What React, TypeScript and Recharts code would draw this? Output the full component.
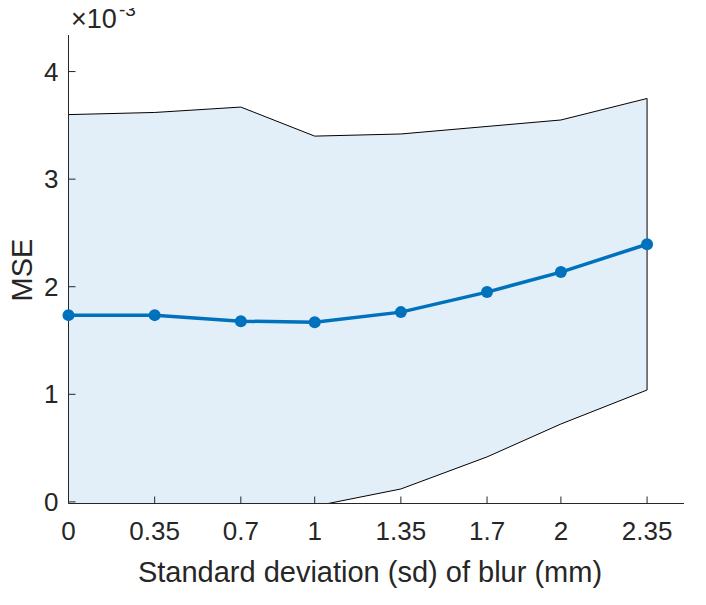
import React from "react";
import { ComposedChart, Area, Line, XAxis, YAxis, ReferenceLine } from "recharts";

const sdValues = [0, 0.35, 0.7, 1, 1.35, 1.7, 2, 2.35];
const meanMSE = [0.001736, 0.001736, 0.00168, 0.00167, 0.001764, 0.00195, 0.002136, 0.002395];
const upperMSE = [0.0036, 0.00362, 0.00367, 0.0034, 0.00342, 0.00349, 0.00355, 0.00375];
const lowerMSE = [-0.00013, -0.00015, -0.0003, -0.00004, 0.00012, 0.000418, 0.000724, 0.00104];
const xTicks = [0, 0.35, 0.7, 1, 1.35, 1.7, 2, 2.35];
const yTicks = [0, 0.001, 0.002, 0.003, 0.004];
const yDomain = [-0.000015, 0.00434];
const xDomain = [0, 2.5];

const data = sdValues.map((sd, i) => ({
  sd,
  mean: meanMSE[i],
  band: [lowerMSE[i], upperMSE[i]],
}));

const AXIS = "#262626";
const FONT = "'Liberation Sans', Arial, Helvetica, sans-serif";
const TICK_LEN = 7;
const TICK_FS = 26;

const BottomTick = (props: any) => {
  const { x, y, payload } = props;
  return (
    <g>
      <line x1={x} y1={y} x2={x} y2={y - TICK_LEN} stroke={AXIS} strokeWidth={1} />
      <text x={x} y={y + 36} textAnchor="middle" fontSize={TICK_FS} fontFamily={FONT} fill={AXIS}>
        {String(payload.value)}
      </text>
    </g>
  );
};
const TopTick = (props: any) => {
  const { x, y } = props;
  return <line x1={x} y1={y} x2={x} y2={y + TICK_LEN} stroke={AXIS} strokeWidth={1} />;
};
const LeftTick = (props: any) => {
  const { x, y, payload } = props;
  return (
    <g>
      <line x1={x} y1={y} x2={x + TICK_LEN} y2={y} stroke={AXIS} strokeWidth={1} />
      <text x={x - 10} y={y + 9} textAnchor="end" fontSize={TICK_FS} fontFamily={FONT} fill={AXIS}>
        {String(Math.round(payload.value * 1000))}
      </text>
    </g>
  );
};
const RightTick = (props: any) => {
  const { x, y } = props;
  return <line x1={x} y1={y} x2={x - TICK_LEN} y2={y} stroke={AXIS} strokeWidth={1} />;
};

export default function App() {
  const W = 690;
  const H = 589;
  return (
    <div style={{ position: "relative", width: W, height: H }}>
      <ComposedChart width={W} height={H} data={data} margin={{ top: 27, right: 14, bottom: 0, left: 0 }}>
        <XAxis
          xAxisId="bottom"
          dataKey="sd"
          type="number"
          domain={xDomain}
          ticks={xTicks}
          interval={0}
          height={93.5}
          tickSize={0}
          tickMargin={0}
          tickLine={false}
          axisLine={{ stroke: AXIS, strokeWidth: 1 }}
          tick={<BottomTick />}
          allowDataOverflow
        />
        <XAxis
          xAxisId="top"
          orientation="top"
          dataKey="sd"
          type="number"
          domain={xDomain}
          ticks={xTicks}
          interval={0}
          height={0}
          tickSize={0}
          tickMargin={0}
          tickLine={false}
          axisLine={{ stroke: AXIS, strokeWidth: 1 }}
          tick={<TopTick />}
        />
        <YAxis
          yAxisId="left"
          type="number"
          domain={yDomain}
          ticks={yTicks}
          interval={0}
          width={60.5}
          tickSize={0}
          tickMargin={0}
          tickLine={false}
          axisLine={{ stroke: AXIS, strokeWidth: 1 }}
          tick={<LeftTick />}
          allowDataOverflow
        />
        <YAxis
          yAxisId="right"
          orientation="right"
          type="number"
          domain={yDomain}
          ticks={yTicks}
          interval={0}
          width={0}
          tickSize={0}
          tickMargin={0}
          tickLine={false}
          axisLine={{ stroke: AXIS, strokeWidth: 1 }}
          tick={<RightTick />}
        />
        <Area
          xAxisId="bottom"
          yAxisId="left"
          dataKey="band"
          type="linear"
          stroke="#000000"
          strokeWidth={1}
          fill="#e2eff8"
          fillOpacity={1}
          isAnimationActive={false}
          dot={false}
          activeDot={false}
        />
        <ReferenceLine
          xAxisId="bottom"
          yAxisId="left"
          segment={[
            { x: sdValues[sdValues.length - 1], y: lowerMSE[lowerMSE.length - 1] },
            { x: sdValues[sdValues.length - 1], y: upperMSE[upperMSE.length - 1] },
          ]}
          stroke="#000000"
          strokeWidth={1}
        />
        <Line
          xAxisId="top"
          yAxisId="right"
          dataKey="mean"
          type="linear"
          stroke="#0072BD"
          strokeWidth={3.5}
          dot={{ r: 6, fill: "#0072BD", stroke: "none" }}
          activeDot={false}
          isAnimationActive={false}
        />
      </ComposedChart>
      <svg
        width={W}
        height={H}
        style={{ position: "absolute", left: 0, top: 0, pointerEvents: "none", overflow: "visible" }}
      >
        <text x={63} y={20} fontSize={27} fontFamily={FONT} fill={AXIS}>
          ×10
        </text>
        <text x={111} y={8} fontSize={19} fontFamily={FONT} fill={AXIS}>
          -3
        </text>
        <text
          x={24}
          y={262}
          transform="rotate(-90 24 262)"
          textAnchor="middle"
          fontSize={29}
          fontFamily={FONT}
          fill={AXIS}
        >
          MSE
        </text>
        <text x={362} y={574} textAnchor="middle" fontSize={29} fontFamily={FONT} fill={AXIS}>
          Standard deviation (sd) of blur (mm)
        </text>
      </svg>
    </div>
  );
}
